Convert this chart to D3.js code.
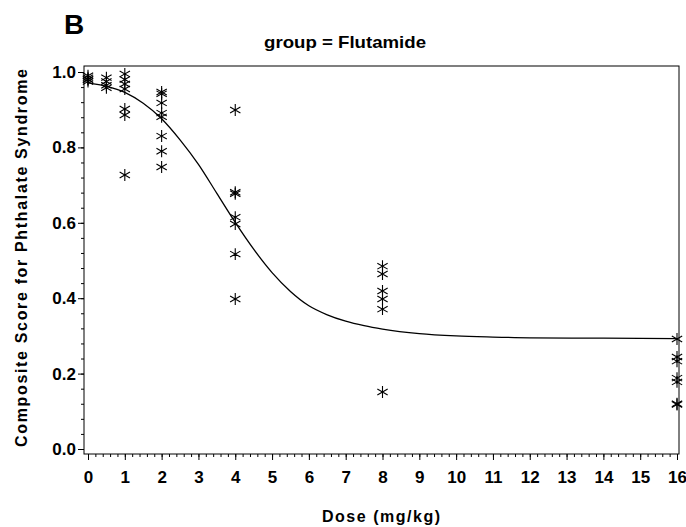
<!DOCTYPE html>
<html>
<head>
<meta charset="utf-8">
<script src="https://cdn.jsdelivr.net/npm/d3@7"></script>
<style>
  body { margin: 0; background: #fff; }
  svg { display: block; }
  text { font-family: "Liberation Sans", Arial, sans-serif; font-weight: bold; fill: #000; }
</style>
</head>
<body>
<svg id="chart" width="686" height="527"></svg>
<script>
// Observed composite scores by dose (mg/kg)
const dose0   = [0.99, 0.985, 0.98, 0.98, 0.975];
const dose05  = [0.985, 0.975, 0.965, 0.958];
const dose1   = [0.995, 0.98, 0.968, 0.955, 0.902, 0.886, 0.727];
const dose2   = [0.947, 0.942, 0.918, 0.891, 0.881, 0.83, 0.79, 0.748];
const dose4   = [0.899, 0.681, 0.677, 0.615, 0.597, 0.517, 0.398];
const dose8   = [0.485, 0.464, 0.419, 0.398, 0.371, 0.151];
const dose16  = [0.292, 0.244, 0.233, 0.188, 0.178, 0.12, 0.118];
const doseGroups = [
  { dose: 0,   values: dose0 },
  { dose: 0.5, values: dose05 },
  { dose: 1,   values: dose1 },
  { dose: 2,   values: dose2 },
  { dose: 4,   values: dose4 },
  { dose: 8,   values: dose8 },
  { dose: 16,  values: dose16 }
];

// Fitted dose-response curve
const fitDose  = [0, 0.5, 1, 1.5, 2, 2.5, 3, 3.5, 4, 4.5, 5, 5.5, 6, 6.5, 7, 7.5, 8, 9, 10, 11, 12, 14, 16];
const fitScore = [0.971, 0.962, 0.946, 0.917, 0.876, 0.82, 0.755, 0.678, 0.601, 0.53, 0.468, 0.418, 0.38, 0.356, 0.339, 0.327, 0.318, 0.306, 0.3, 0.297, 0.295, 0.294, 0.293];

// Axis ticks
const xTicks = d3.range(0, 17, 1);
const xMinor = d3.range(0, 16.01, 0.2);
const yTicks = [0, 0.2, 0.4, 0.6, 0.8, 1.0];
const yMinor = d3.range(0, 1.001, 0.04);

const svg = d3.select("#chart");
const frame = { left: 84, right: 679, top: 66, bottom: 454 };

const x = d3.scaleLinear().domain([0, 16]).range([88, 677]);
const y = d3.scaleLinear().domain([0, 1]).range([449, 72]);

// Panel letter and title
svg.append("text").attr("x", 64).attr("y", 34)
  .style("font-size", "28px").text("B");
svg.append("text").attr("x", 345).attr("y", 48)
  .attr("text-anchor", "middle").style("font-size", "17px")
  .attr("textLength", 162).attr("lengthAdjust", "spacingAndGlyphs")
  .text("group = Flutamide");

// Minor ticks
svg.append("g").attr("transform", `translate(0,${frame.bottom})`)
  .call(d3.axisBottom(x).tickValues(xMinor).tickSize(3).tickFormat(""))
  .call(g => g.select(".domain").remove());
svg.append("g").attr("transform", `translate(${frame.left},0)`)
  .call(d3.axisLeft(y).tickValues(yMinor).tickSize(3).tickFormat(""))
  .call(g => g.select(".domain").remove());

// Major ticks with labels
const labelStyle = g => g.selectAll("text")
  .style("font-size", "17px")
  .style("font-family", "'Liberation Sans', Arial, sans-serif")
  .style("font-weight", "bold");
svg.append("g").attr("transform", `translate(0,${frame.bottom})`)
  .call(d3.axisBottom(x).tickValues(xTicks).tickSize(6).tickPadding(11).tickFormat(d3.format("d")))
  .call(g => g.select(".domain").remove())
  .call(labelStyle);
svg.append("g").attr("transform", `translate(${frame.left},0)`)
  .call(d3.axisLeft(y).tickValues(yTicks).tickSize(6).tickPadding(2).tickFormat(d3.format(".1f")))
  .call(g => g.select(".domain").remove())
  .call(labelStyle);

svg.selectAll(".tick line").attr("stroke", "#000");

// Plot frame
svg.append("rect")
  .attr("x", frame.left).attr("y", frame.top)
  .attr("width", frame.right - frame.left).attr("height", frame.bottom - frame.top)
  .attr("fill", "none").attr("stroke", "#000").attr("stroke-width", 1);

// Axis titles
svg.append("text").attr("x", 381).attr("y", 522)
  .attr("text-anchor", "middle").style("font-size", "16px")
  .attr("textLength", 118).attr("lengthAdjust", "spacing")
  .text("Dose  (mg/kg)");
svg.append("text")
  .attr("transform", "translate(27,258) rotate(-90)")
  .attr("text-anchor", "middle").style("font-size", "16px")
  .attr("textLength", 378).attr("lengthAdjust", "spacing")
  .text("Composite Score for Phthalate Syndrome");

// Fitted curve
const line = d3.line()
  .x((d, i) => x(fitDose[i]))
  .y(d => y(d))
  .curve(d3.curveMonotoneX);
svg.append("path")
  .datum(fitScore)
  .attr("d", line)
  .attr("fill", "none").attr("stroke", "#000").attr("stroke-width", 1.3);

// Observed points as asterisks
const points = doseGroups.flatMap(g => g.values.map(v => ({ dose: g.dose, value: v })));
const star = d3.symbol().type(d3.symbolAsterisk).size(100);
svg.append("g").selectAll("path")
  .data(points)
  .join("path")
  .attr("transform", d => `translate(${x(d.dose)},${y(d.value)})`)
  .attr("d", star)
  .attr("fill", "none").attr("stroke", "#000").attr("stroke-width", 1.1);
</script>
</body>
</html>
